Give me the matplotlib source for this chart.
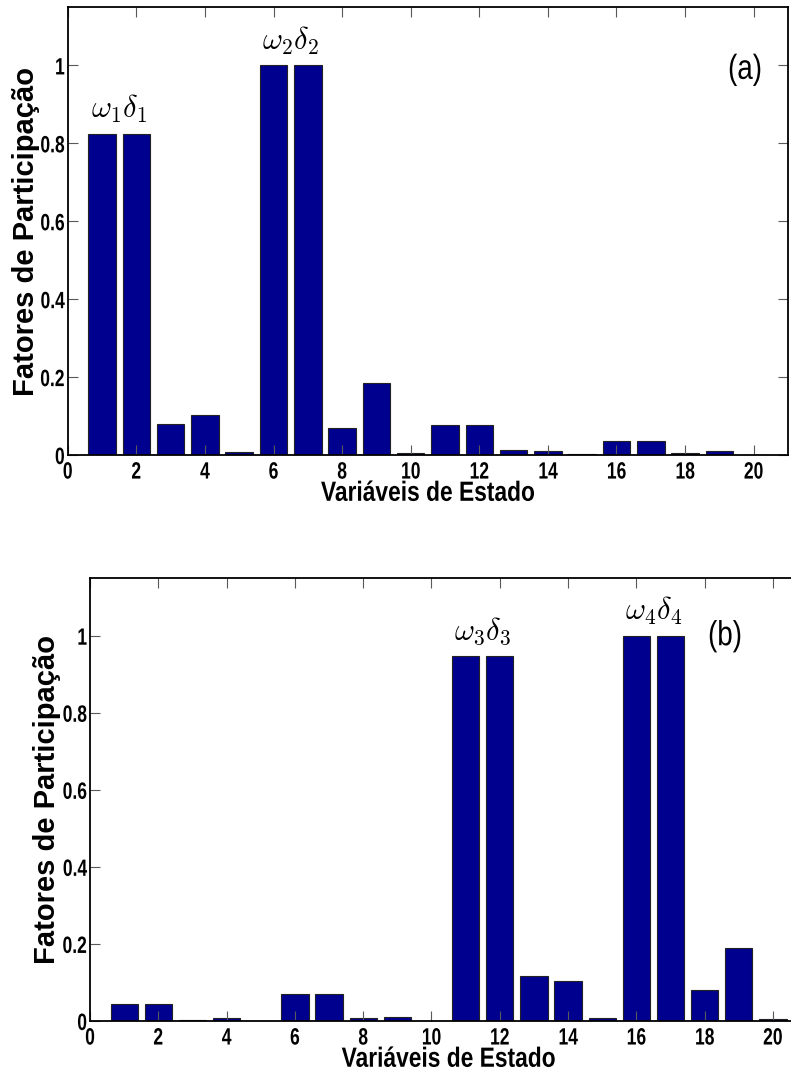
import matplotlib
matplotlib.use("Agg")
import matplotlib.pyplot as plt
from matplotlib.patheffects import AbstractPathEffect
from matplotlib.transforms import Affine2D
from matplotlib.path import Path
import numpy as np

# State variables 1..20 and participation factors for two modes
states = np.arange(1, 21)
pf_a = [0.825, 0.825, 0.080, 0.102, 0.007, 1.000, 1.000, 0.069, 0.184, 0.005,
        0.077, 0.077, 0.012, 0.010, 0.003, 0.037, 0.037, 0.006, 0.010, 0.000]
pf_b = [0.043, 0.043, 0.003, 0.007, 0.000, 0.069, 0.069, 0.008, 0.010, 0.000,
        0.948, 0.948, 0.117, 0.104, 0.009, 1.000, 1.000, 0.080, 0.190, 0.005]

xticks = list(range(0, 21, 2))
yticks = [0, 0.2, 0.4, 0.6, 0.8, 1]
ytick_labels = ["0", "0.2", "0.4", "0.6", "0.8", "1"]

labels_a = [(1.5, r"$\omega_1\delta_1$"), (6.5, r"$\omega_2\delta_2$")]
labels_b = [(11.5, r"$\omega_3\delta_3$"), (16.5, r"$\omega_4\delta_4$")]

SANS = ["Liberation Sans", "DejaVu Sans"]
plt.rcParams["mathtext.fontset"] = "cm"

BAR_COLOR = "#00008f"


class Condense(AbstractPathEffect):
    """Squeeze glyph outlines horizontally to mimic a narrow typeface."""

    def __init__(self, sx=0.8, anchor="center"):
        super().__init__()
        self.sx = sx
        self.anchor = anchor

    def draw_path(self, renderer, gc, tpath, affine, rgbFace=None):
        verts = tpath.vertices
        if tpath.codes is not None:
            verts = verts[tpath.codes != Path.CLOSEPOLY]
        if len(verts):
            x0, x1 = verts[:, 0].min(), verts[:, 0].max()
        else:
            x0 = x1 = 0.0
        ref = {"left": x0, "center": 0.5 * (x0 + x1), "right": x1}[self.anchor]
        t = Affine2D().translate(-ref, 0).scale(self.sx, 1).translate(ref, 0) + affine
        renderer.draw_path(gc, tpath, t, rgbFace)


fig = plt.figure(figsize=(7.91, 10.78), dpi=100)
ax_a = fig.add_axes([0.0856, 0.5779, 0.9106, 0.4156])
ax_b = fig.add_axes([0.1138, 0.0529, 0.9065, 0.4110])


def draw_panel(ax, values, mode_labels, tag, tag_xy, ylabel_x):
    ax.bar(states, values, width=0.8, color=BAR_COLOR, edgecolor="#222222",
           linewidth=0.8, zorder=1)
    ax.set_xlim(0, 21)
    ax.set_ylim(0, 1.15)
    ax.set_xticks(xticks)
    ax.set_xticklabels([str(t) for t in xticks], family=SANS,
                       fontweight="bold", fontsize=17)
    ax.set_yticks(yticks)
    ax.set_yticklabels(ytick_labels, family=SANS, fontweight="bold",
                       fontsize=17)
    ax.tick_params(direction="in", length=7, width=0.8, color="0.35",
                   top=True, right=True)
    ax.tick_params(axis="x", pad=4)
    ax.tick_params(axis="y", pad=2)
    for tk in ax.xaxis.get_major_ticks():
        tk.label1.set_path_effects([Condense(0.74, "center")])
    for tk in ax.yaxis.get_major_ticks():
        tk.label1.set_path_effects([Condense(0.74, "right")])
    for sp in ax.spines.values():
        sp.set_linewidth(1.3)
        sp.set_zorder(3)
    xl = ax.set_xlabel("Variáveis de Estado", family=SANS, fontweight="bold",
                       fontsize=20, labelpad=-2)
    xl.set_path_effects([Condense(0.82, "center")])
    ax.set_ylabel("Fatores de Participação", family=SANS, fontweight="bold",
                  fontsize=21)
    ax.yaxis.set_label_coords(ylabel_x, 0.5)
    for xc, txt in mode_labels:
        top = max(values[int(xc - 0.5) - 1], values[int(xc + 0.5) - 1])
        ax.text(xc, top + 0.022, txt, ha="center", va="bottom", fontsize=22)
    t = ax.text(tag_xy[0], tag_xy[1], tag, ha="center", va="center",
                family=SANS, fontsize=25)
    t.set_path_effects([Condense(0.8, "center")])


draw_panel(ax_a, pf_a, labels_a, "(a)", (19.75, 0.99), -0.038)
draw_panel(ax_b, pf_b, labels_b, "(b)", (18.6, 1.0), -0.040)

fig.savefig("out.png", dpi=100)
